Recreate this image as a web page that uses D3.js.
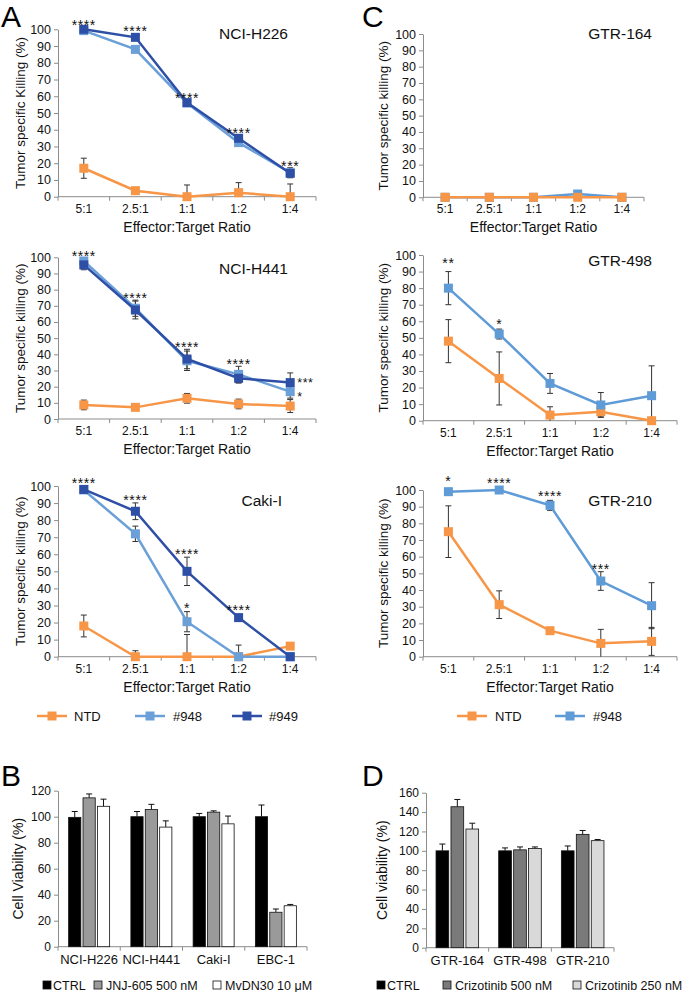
<!DOCTYPE html>
<html><head><meta charset="utf-8">
<script src="https://cdn.jsdelivr.net/npm/d3@7"></script>
<style>body{margin:0;background:#fff}svg{display:block;font-family:"Liberation Sans",Arial,sans-serif}</style>
</head><body><svg id="c" width="683" height="992"></svg>
<script>
// ---------- DATA ----------
const ratios = ["5:1","2.5:1","1:1","1:2","1:4"];
const yTicksLine = [0,10,20,30,40,50,60,70,80,90,100];

// Panel A: NCI-H226
const h226_NTD = [17, 3.6, 0, 2.4, 0];      const h226_NTD_err = [6, 1.5, 7, 6, 7.6];
const h226_948 = [99.2, 88, 56, 32.3, 14.3]; const h226_948_err = [0.8, 1.5, 1, 1.5, 3];
const h226_949 = [100, 95.2, 56.2, 34.9, 14]; const h226_949_err = [0.5, 1, 1, 1.5, 1.5];
const h226_stars = [["5:1","****",104.5],["2.5:1","****",100.6],["1:1","****",60.8],["1:2","****",39.8],["1:4","***",20.3]];

// Panel A: NCI-H441
const h441_NTD = [8.7, 7.2, 12.8, 9.3, 8];   const h441_NTD_err = [3, 1.5, 3, 3, 4];
const h441_948 = [97.7, 68.5, 36, 27.6, 16.9]; const h441_948_err = [2, 5, 6, 5, 4];
const h441_949 = [95.3, 67.4, 37.1, 25.2, 22.5]; const h441_949_err = [3, 5.5, 6, 3, 6];
const h441_stars = [["5:1","****",102.9],["2.5:1","****",76.7],["1:1","****",46.2],["1:2","****",36.1]];
const h441_starsSide = [["1:4","***",24],["1:4","*",15.5]];

// Panel A: Caki-I
const caki_NTD = [18, 0, 0, 0, 6.2];   const caki_NTD_err = [6.4, 3.5, 13, 6.8, 1];
const caki_948 = [97.7, 72, 20.5, 0, 0]; const caki_948_err = [1, 4.5, 5.9, 0, 0];
const caki_949 = [98, 85.2, 50, 22.9, 0]; const caki_949_err = [1, 4.9, 8.3, 1, 1];
const caki_stars = [["5:1","****",103.5],["2.5:1","****",93.8],["1:1","****",61.9],["1:1","*",30.3],["1:2","****",29.3]];

// Panel C: GTR-164
const g164_NTD = [0, 0, 0, 0, 0]; const g164_NTD_err = [0, 0, 0, 0, 0];
const g164_948 = [0, 0, 0, 2, 0]; const g164_948_err = [0, 0, 0, 0, 0];
// Panel C: GTR-498
const g498_NTD = [48, 25.5, 3.4, 5.4, 0];   const g498_NTD_err = [13, 16, 5, 3, 0];
const g498_948 = [80, 52.3, 22.5, 9.5, 15.1]; const g498_948_err = [10, 3, 6, 7.5, 18];
const g498_stars = [["5:1","**",97],["2.5:1","*",60.2]];
// Panel C: GTR-210
const g210_NTD = [75, 31.2, 15.6, 8, 9.2];   const g210_NTD_err = [15.5, 8.3, 1, 8.4, 8.4];
const g210_948 = [99, 100, 90.8, 45.4, 30.6]; const g210_948_err = [1.5, 0.5, 3, 5.6, 13.8];
const g210_stars = [["5:1","*",107],["2.5:1","****",106],["1:1","****",98.4],["1:2","***",54.4]];

// Panel B
const bCells = ["NCI-H226","NCI-H441","Caki-I","EBC-1"];
const bKeys = ["CTRL","JNJ-605 500 nM","MvDN30 10 μM"];
const b_CTRL = [99.5, 100, 100, 100];   const b_CTRL_err = [4.5, 4, 2.5, 9];
const b_JNJ  = [114.5, 105.5, 103.5, 26.5]; const b_JNJ_err = [3, 4, 1, 2.5];
const b_MvDN = [108, 92, 94.5, 31.5];   const b_MvDN_err = [5.5, 4.8, 6, 1];
const bTicks = [0,20,40,60,80,100,120];

// Panel D
const dCells = ["GTR-164","GTR-498","GTR-210"];
const dKeys = ["CTRL","Crizotinib 500 nM","Crizotinib 250 nM"];
const d_CTRL = [100, 100, 100];     const d_CTRL_err = [7, 3, 5];
const d_C500 = [145.5, 101, 117];   const d_C500_err = [7.5, 3, 4];
const d_C250 = [122.5, 102.5, 110.5]; const d_C250_err = [6, 1.5, 1.2];
const dTicks = [0,20,40,60,80,100,120,140,160];

// ---------- STYLE ----------
const col = {"NTD":"#f79646","#948":"#6a9fd8","#949":"#2e4fa6"};
const colC948 = "#5f9bd6";
const axisCol = "#8c8c8c";
const FONT = '"Liberation Sans",Arial,sans-serif';
const svg = d3.select("#c");

function ser(name, vals, errs, color){ return {name, vals, errs, color: color || col[name]}; }

function linePanel(p){
  const g = svg.append("g");
  const x = d3.scaleBand().domain(ratios).range([p.x0, p.x1]);
  const y = d3.scaleLinear().domain([0,100]).range([p.yBot, p.yTop]);
  const ya = g.append("g").attr("transform",`translate(${p.x0},0)`)
    .call(d3.axisLeft(y).tickValues(yTicksLine).tickSize(4).tickSizeOuter(0).tickPadding(3));
  ya.select(".domain").attr("stroke",axisCol);
  ya.selectAll(".tick line").attr("stroke",axisCol);
  ya.selectAll("text").attr("font-size",12.5).attr("fill","#111").attr("font-family",FONT);
  g.append("line").attr("x1",p.x0).attr("x2",p.x1).attr("y1",p.yBot).attr("y2",p.yBot).attr("stroke",axisCol);
  const bounds = ratios.map(r=>x(r)).concat([x(ratios[ratios.length-1])+x.step()]);
  g.selectAll(".bt").data(bounds).join("line").attr("x1",d=>d).attr("x2",d=>d)
    .attr("y1",p.yBot).attr("y2",p.yBot+4).attr("stroke",axisCol);
  g.selectAll(".xl").data(ratios).join("text").attr("x",d=>x(d)+x.bandwidth()/2).attr("y",p.yBot+16)
    .attr("text-anchor","middle").attr("font-size",12).attr("fill","#111").text(d=>d);
  g.append("text").attr("x",(p.x0+p.x1)/2).attr("y",p.yBot+35).attr("text-anchor","middle")
    .attr("font-size",14).attr("fill","#111").text("Effector:Target Ratio");
  g.append("text").attr("transform",`translate(${p.ylx},${(p.yTop+p.yBot)/2}) rotate(-90)`)
    .attr("text-anchor","middle").attr("dominant-baseline","central").attr("font-size",13.5).attr("fill","#111").text(p.ylabel);
  g.append("text").attr("x",p.tx).attr("y",p.ty+5.5).attr("text-anchor","end").attr("font-size",15.5).attr("fill","#111").text(p.title);
  const cx = r => x(r)+x.bandwidth()/2;
  p.series.forEach(s=>{
    s.vals.forEach((v,i)=>{
      const e = s.errs[i]; if(!e) return;
      const lo = Math.max(0,v-e), hi = v+e;
      const X = cx(ratios[i]);
      g.append("line").attr("x1",X).attr("x2",X).attr("y1",y(lo)).attr("y2",y(hi)).attr("stroke","#333").attr("stroke-width",1);
      g.append("line").attr("x1",X-3).attr("x2",X+3).attr("y1",y(hi)).attr("y2",y(hi)).attr("stroke","#333").attr("stroke-width",1);
      if(v-e>0) g.append("line").attr("x1",X-3).attr("x2",X+3).attr("y1",y(lo)).attr("y2",y(lo)).attr("stroke","#333").attr("stroke-width",1);
    });
  });
  const line = d3.line().x((d,i)=>cx(ratios[i])).y(d=>y(d));
  p.series.forEach(s=>{
    g.append("path").datum(s.vals).attr("d",line).attr("fill","none").attr("stroke",s.color).attr("stroke-width",2.5);
    g.selectAll(null).data(s.vals).join("rect").attr("x",(d,i)=>cx(ratios[i])-4.5).attr("y",d=>y(d)-4.5)
      .attr("width",9).attr("height",9).attr("fill",s.color);
  });
  (p.stars||[]).forEach(([r,t,v])=>{
    g.append("text").attr("x",cx(r)).attr("y",y(v)+8).attr("text-anchor","middle").attr("font-size",14)
      .attr("letter-spacing",0.6).attr("fill","#111").text(t);
  });
  (p.starsSide||[]).forEach(([r,t,v])=>{
    g.append("text").attr("x",cx(r)+7).attr("y",y(v)+7).attr("text-anchor","start").attr("font-size",12.5)
      .attr("letter-spacing",0.6).attr("fill","#111").text(t);
  });
}

linePanel({x0:58,x1:316,yTop:29.3,yBot:196.7,title:"NCI-H226",tx:288,ty:33,ylabel:"Tumor specific Killing (%)",ylx:20,
  series:[ser("NTD",h226_NTD,h226_NTD_err),ser("#948",h226_948,h226_948_err),ser("#949",h226_949,h226_949_err)],stars:h226_stars});
linePanel({x0:58,x1:316,yTop:257.3,yBot:419,title:"NCI-H441",tx:288,ty:268,ylabel:"Tumor specific killing (%)",ylx:20,
  series:[ser("NTD",h441_NTD,h441_NTD_err),ser("#948",h441_948,h441_948_err),ser("#949",h441_949,h441_949_err)],stars:h441_stars,starsSide:h441_starsSide});
linePanel({x0:58,x1:316,yTop:486,yBot:656.7,title:"Caki-I",tx:282,ty:500,ylabel:"Tumor specific killing (%)",ylx:20,
  series:[ser("NTD",caki_NTD,caki_NTD_err),ser("#948",caki_948,caki_948_err),ser("#949",caki_949,caki_949_err)],stars:caki_stars});
linePanel({x0:423,x1:644,yTop:34,yBot:197.3,title:"GTR-164",tx:652,ty:33,ylabel:"Tumor specific killing (%)",ylx:383,
  series:[ser("#948",g164_948,g164_948_err,colC948),ser("NTD",g164_NTD,g164_NTD_err)]});
linePanel({x0:423,x1:677,yTop:255,yBot:420.7,title:"GTR-498",tx:652,ty:260,ylabel:"Tumor specific killing (%)",ylx:383,
  series:[ser("NTD",g498_NTD,g498_NTD_err),ser("#948",g498_948,g498_948_err,colC948)],stars:g498_stars});
linePanel({x0:423,x1:677,yTop:490,yBot:656.7,title:"GTR-210",tx:652,ty:500,ylabel:"Tumor specific killing (%)",ylx:383,
  series:[ser("NTD",g210_NTD,g210_NTD_err),ser("#948",g210_948,g210_948_err,colC948)],stars:g210_stars});

function lineLegend(items, xs, yc){
  items.forEach((it,i)=>{
    const [lx, tx] = xs[i];
    svg.append("line").attr("x1",lx).attr("x2",lx+30).attr("y1",yc).attr("y2",yc).attr("stroke",it.color).attr("stroke-width",2.5);
    svg.append("rect").attr("x",lx+15-4.5).attr("y",yc-4.5).attr("width",9).attr("height",9).attr("fill",it.color);
    svg.append("text").attr("x",tx).attr("y",yc+4.7).attr("font-size",13).attr("fill","#111").text(it.name);
  });
}
lineLegend([{name:"NTD",color:col["NTD"]},{name:"#948",color:col["#948"]},{name:"#949",color:col["#949"]}],[[37,74],[135,173],[232,269]],716);
lineLegend([{name:"NTD",color:col["NTD"]},{name:"#948",color:colC948}],[[457,495],[555,593]],716);

function barPanel(p){
  const g = svg.append("g");
  const x = d3.scaleBand().domain(p.cells).range([p.x0,p.x1]);
  const xi = d3.scaleBand().domain(p.keys).range([-p.half,p.half]).paddingInner(0.15);
  const y = d3.scaleLinear().domain([0,p.max]).range([p.yBot,p.yTop]);
  const ya = g.append("g").attr("transform",`translate(${p.x0},0)`)
    .call(d3.axisLeft(y).tickValues(p.ticks).tickSize(4).tickSizeOuter(0).tickPadding(3));
  ya.select(".domain").attr("stroke",axisCol);
  ya.selectAll(".tick line").attr("stroke",axisCol);
  ya.selectAll("text").attr("font-size",12).attr("fill","#111").attr("font-family",FONT);
  g.append("line").attr("x1",p.x0).attr("x2",p.x1).attr("y1",p.yBot).attr("y2",p.yBot).attr("stroke",axisCol);
  const bounds = p.cells.map(c=>x(c)).concat([p.x1]);
  g.selectAll(".bt").data(bounds).join("line").attr("x1",d=>d).attr("x2",d=>d).attr("y1",p.yBot).attr("y2",p.yBot+4).attr("stroke",axisCol);
  g.selectAll(".cl").data(p.cells).join("text").attr("x",d=>x(d)+x.bandwidth()/2).attr("y",p.yBot+17)
    .attr("text-anchor","middle").attr("font-size",13).attr("fill","#111").text(d=>d);
  g.append("text").attr("transform",`translate(${p.ylx},${(p.yTop+p.yBot)/2}) rotate(-90)`)
    .attr("text-anchor","middle").attr("dominant-baseline","central").attr("font-size",14).attr("fill","#111").text(p.ylabel);
  p.data.forEach((s,k)=>{
    s.vals.forEach((v,i)=>{
      const X = x(p.cells[i]) + x.bandwidth()/2 + xi(p.keys[k]);
      const W = xi.bandwidth();
      const hi = v + s.errs[i];
      g.append("line").attr("x1",X+W/2).attr("x2",X+W/2).attr("y1",y(v)).attr("y2",y(hi)).attr("stroke","#111").attr("stroke-width",1);
      g.append("line").attr("x1",X+W/2-3).attr("x2",X+W/2+3).attr("y1",y(hi)).attr("y2",y(hi)).attr("stroke","#111").attr("stroke-width",1);
      g.append("rect").attr("x",X).attr("y",y(v)).attr("width",W).attr("height",y(0)-y(v))
        .attr("fill",s.color).attr("stroke","#111").attr("stroke-width",0.8);
    });
  });
  p.legend.forEach(([sx,tx],k)=>{
    svg.append("rect").attr("x",sx).attr("y",p.legY-4).attr("width",8).attr("height",8)
      .attr("fill",p.data[k].color).attr("stroke","#111").attr("stroke-width",0.8);
    svg.append("text").attr("x",tx).attr("y",p.legY+4.5).attr("font-size",12.5).attr("fill","#111").text(p.keys[k]);
  });
}
barPanel({cells:bCells,keys:bKeys,x0:58,x1:307,yTop:790.7,yBot:946.7,max:120,ticks:bTicks,half:20.5,ylabel:"Cell Viability (%)",ylx:18,
  data:[{vals:b_CTRL,errs:b_CTRL_err,color:"#000"},{vals:b_JNJ,errs:b_JNJ_err,color:"#9a9a9a"},{vals:b_MvDN,errs:b_MvDN_err,color:"#fff"}],
  legend:[[43,53],[94,106],[213,225]],legY:985});
barPanel({cells:dCells,keys:dKeys,x0:426,x1:614,yTop:792.7,yBot:947.7,max:160,ticks:dTicks,half:21.3,ylabel:"Cell viability (%)",ylx:382,
  data:[{vals:d_CTRL,errs:d_CTRL_err,color:"#000"},{vals:d_C500,errs:d_C500_err,color:"#7a7a7a"},{vals:d_C250,errs:d_C250_err,color:"#d9d9d9"}],
  legend:[[377,387],[443,455],[573,585]],legY:985});

[["A",1,27],["C",362,27],["B",1,786],["D",362,786]].forEach(([t,x,y])=>{
  svg.append("text").attr("x",x).attr("y",y).attr("font-size",30).attr("fill","#000").text(t);
});
</script></body></html>
